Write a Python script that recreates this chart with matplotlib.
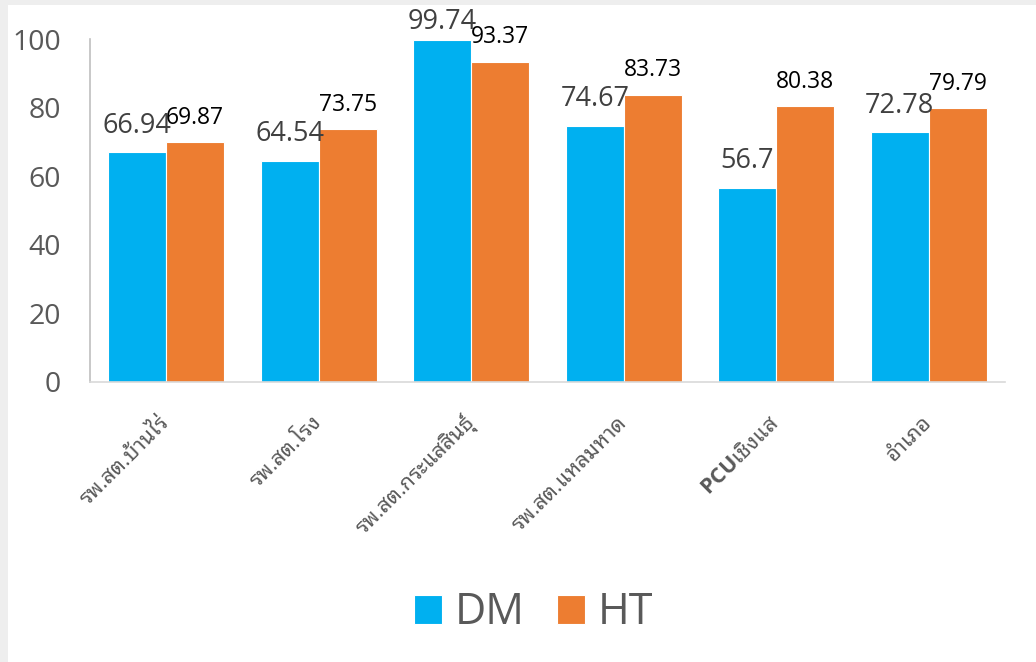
import matplotlib
matplotlib.use("Agg")
import matplotlib.pyplot as plt
import numpy as np
from matplotlib.patches import Rectangle

plt.rcParams['font.family'] = ['Open Sans', 'Noto Sans Thai Looped']
plt.rcParams['mathtext.fontset'] = 'custom'
plt.rcParams['mathtext.bf'] = 'Open Sans:bold'
plt.rcParams['mathtext.rm'] = 'Noto Sans Thai Looped'

# data
places = ["รพ.สต.บ้านไร่", "รพ.สต.โรง", "รพ.สต.กระแสสินธุ์",
          "รพ.สต.แหลมหาด", r"$\mathbf{PCU}\mathrm{เชิงแส}$", "อำเภอ"]
dm = [66.94, 64.54, 99.74, 74.67, 56.7, 72.78]
ht = [69.87, 73.75, 93.37, 83.73, 80.38, 79.79]
yticks = [0, 20, 40, 60, 80, 100]

c_dm = "#00B0F0"
c_ht = "#ED7D31"

fig = plt.figure(figsize=(10.36, 6.62), dpi=100)
fig.patch.set_facecolor("#eeeeee")
# white card with a thin grey frame top/left like the screenshot
fig.patches.append(Rectangle((8/1036, 0), 1, 1 - 5/662, transform=fig.transFigure,
                             facecolor="white", edgecolor="none", zorder=-10))

ax = fig.add_axes([90/1036, 280/662, 915/1036, 343/662])
ax.set_facecolor("white")

x = np.arange(len(places))
w = 0.38
b1 = ax.bar(x - w/2, dm, w, color=c_dm, edgecolor="white", linewidth=0.8)
b2 = ax.bar(x + w/2, ht, w, color=c_ht, edgecolor="white", linewidth=0.8)

for xi, v in zip(x, dm):
    off = 3 if v > 97 else 9
    ax.annotate(f"{v:g}", (xi - w/2, v), xytext=(0, off), textcoords="offset points",
                ha="center", va="bottom", fontsize=19.5, color="#404040",
                annotation_clip=False)
for xi, v in zip(x, ht):
    ax.annotate(f"{v:g}", (xi + w/2, v), xytext=(0, 9), textcoords="offset points",
                ha="center", va="bottom", fontsize=16.5, color="black",
                annotation_clip=False)

ax.set_xlim(-0.5, len(places) - 0.5)
ax.set_ylim(0, 100)
ax.set_yticks(yticks)
ax.tick_params(axis="y", length=0, pad=21, labelsize=20.5, labelcolor="#595959")
ax.set_xticks(x)
ax.set_xticklabels(places, rotation=45, ha="right", va="center",
                   rotation_mode="anchor", fontsize=15.5, color="#595959")
ax.tick_params(axis="x", length=0, pad=27)

for s in ["top", "right"]:
    ax.spines[s].set_visible(False)
ax.spines["left"].set_color("#bfbfbf")
ax.spines["bottom"].set_color("#d9d9d9")
ax.spines["left"].set_linewidth(1.2)
ax.spines["bottom"].set_linewidth(1.2)

leg = ax.legend([b1, b2], ["DM", "HT"], loc="center", ncol=2,
                bbox_to_anchor=(0.515, 0.074), bbox_transform=fig.transFigure,
                frameon=False, fontsize=31, handlelength=0.65, handleheight=0.65,
                handletextpad=0.3, columnspacing=0.75)
for t in leg.get_texts():
    t.set_color("#595959")

fig.savefig("out.png", dpi=100, facecolor=fig.get_facecolor())
